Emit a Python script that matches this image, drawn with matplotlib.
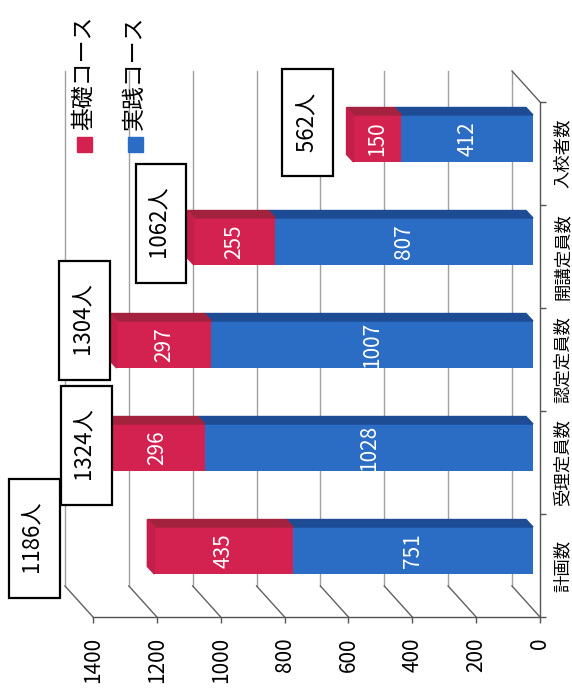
import matplotlib
matplotlib.use('Agg')
import matplotlib.pyplot as plt
import matplotlib.transforms as mtransforms
from matplotlib.patches import Polygon, Rectangle

plt.rcParams['font.family'] = ['Noto Sans CJK JP', 'DejaVu Sans']

# data
categories = ['計画数', '受理定員数', '認定定員数', '開講定員数', '入校者数']
kiso = [435, 296, 297, 255, 150]
jissen = [751, 1028, 1007, 807, 412]
series_names = ['基礎コース', '実践コース']
value_ticks = [0, 200, 400, 600, 800, 1000, 1200, 1400]

totals = [a + b for a, b in zip(kiso, jissen)]

RED, RED_TOP, RED_END = '#d42250', '#a3233f', '#c41f4a'
BLUE, BLUE_TOP = '#2b6cc4', '#1d4c94'
GRID = '#a0a0a0'
AXIS = '#555555'

# where each total box sits relative to the end of its bar (pixels)
box_offsets = [(-120, 12), (-24, 2), (-32, 24), (-33, 18), (-46, 16)]

W, H = 572, 697
fig = plt.figure(figsize=(W / 100, H / 100), dpi=100)
ax = fig.add_axes([93 / W, 1 - 617 / H, (540 - 93) / W, (617 - 102) / H])
ax.set_xlim(1400, 0)
ax.set_ylim(-0.5, 4.5)


def px(dx, dy):
    # pixel offset -> data offset
    inv = ax.transData.inverted()
    (x0, y0), (x1, y1) = inv.transform([(0, 0), (dx, dy)])
    return x1 - x0, y1 - y0


# fake 3d: bars sit a bit behind the front plane, back wall further back
bar_tr = ax.transData + mtransforms.ScaledTranslation(-7 / 100, 15 / 100, fig.dpi_scale_trans)
ddx, ddy = px(-7, 7.5)
bdx, bdy = px(-28, 31)
bh = px(0, 47)[1]

# back wall grid + floor lines
for v in value_ticks:
    ax.plot([v + bdx, v + bdx], [-0.5 + bdy, 4.5 + bdy], color=GRID, lw=1, clip_on=False, zorder=1)
    ax.plot([v + bdx, v], [-0.5 + bdy, -0.5], color='#606060', lw=1, clip_on=False, zorder=1)
ax.plot([bdx, 0], [4.5 + bdy, 4.5], color='#606060', lw=1, clip_on=False, zorder=1)

ys = list(range(len(categories)))
ax.barh(ys, jissen, left=0, height=bh, color=BLUE, transform=bar_tr, zorder=3)
ax.barh(ys, kiso, left=jissen, height=bh, color=RED, transform=bar_tr, zorder=3)

for i in ys:
    yt = i + bh / 2
    yb = i - bh / 2
    segs = [(0, jissen[i], BLUE_TOP), (jissen[i], totals[i], RED_TOP)]
    for a, b, c in segs:
        ax.add_patch(Polygon([(a, yt), (b, yt), (b + ddx, yt + ddy), (a + ddx, yt + ddy)],
                             closed=True, color=c, transform=bar_tr, zorder=3))
    t = totals[i]
    ax.add_patch(Polygon([(t, yb), (t, yt), (t + ddx, yt + ddy), (t + ddx, yb + ddy)],
                         closed=True, color=RED_END, transform=bar_tr, zorder=3))

    ax.text(jissen[i] / 2, i, str(jissen[i]), transform=bar_tr, rotation=90,
            ha='center', va='center', color='white', fontsize=15, zorder=5)
    ax.text(jissen[i] + kiso[i] / 2, i, str(kiso[i]), transform=bar_tr, rotation=90,
            ha='center', va='center', color='white', fontsize=15, zorder=5)

    ax.annotate(f'  {t}人  ', xy=(t, i), xycoords=bar_tr, xytext=box_offsets[i],
                textcoords='offset pixels', rotation=90, ha='center', va='center',
                fontsize=16, zorder=6, annotation_clip=False,
                bbox=dict(boxstyle='square,pad=0.62', fc='white', ec='black', lw=1.6))

# axes
for s in ['top', 'left']:
    ax.spines[s].set_visible(False)
for s in ['bottom', 'right']:
    ax.spines[s].set_color(AXIS)
    ax.spines[s].set_linewidth(1)

ax.set_xticks(value_ticks)
ax.set_xticklabels([str(v) for v in value_ticks])
ax.tick_params(axis='x', direction='out', length=4, width=1, color=AXIS,
               pad=10.5, labelsize=15, labelrotation=90)

ax.yaxis.tick_right()
ax.set_yticks(ys)
ax.set_yticklabels(categories)
ax.set_yticks([i - 0.5 for i in range(len(categories) + 1)], minor=True)
ax.tick_params(axis='y', which='major', length=0, pad=10, labelsize=12.5, labelrotation=90)
ax.tick_params(axis='y', which='minor', direction='out', length=4, width=1, color=AXIS)
for lab in ax.get_yticklabels():
    lab.set_va('center')

# legend
for k, (name, col) in enumerate(zip(series_names, [RED, BLUE])):
    cx = 84.5 + 51 * k
    fig.add_artist(Rectangle(((cx - 7.5) / W, 1 - 152 / H), 15 / W, 15 / H,
                             transform=fig.transFigure, color=col))
    fig.text((cx - 1) / W, 1 - 130 / H, name, rotation=90, ha='center', va='bottom',
             fontsize=16.5)

fig.savefig('out.png', dpi=100)
